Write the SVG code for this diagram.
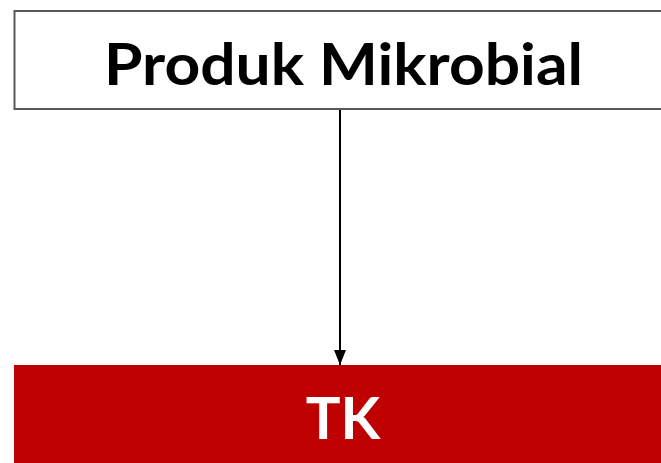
<svg xmlns="http://www.w3.org/2000/svg" width="661" height="463" viewBox="0 0 661 463">
<style>
.lbl{font-family:Lato,"Open Sans","Liberation Sans",sans-serif;font-weight:bold;text-anchor:middle}
</style>
<defs>
<marker id="arr" markerWidth="15" markerHeight="12" refX="15" refY="6" orient="auto" markerUnits="userSpaceOnUse" viewBox="0 0 15 12">
<path d="M0,0 L15,6 L0,12 Z" fill="#000"/>
</marker>
</defs>
<rect width="661" height="463" fill="#fff"/>
<g id="node-produk">
<rect x="14.5" y="11" width="660" height="98" fill="#fff" stroke="#595959" stroke-width="2"/>
<text class="lbl" x="343.5" y="85" font-size="58" fill="#000" textLength="479" lengthAdjust="spacingAndGlyphs">Produk Mikrobial</text>
</g>
<g id="node-tk">
<rect x="14" y="365" width="660" height="110" fill="#BE0000"/>
<text class="lbl" x="343" y="439" font-size="58" fill="#fff">TK</text>
</g>
<g id="connectors">
<line x1="340" y1="110" x2="340" y2="365" stroke="#000" stroke-width="2" marker-end="url(#arr)"/>
</g>
</svg>
